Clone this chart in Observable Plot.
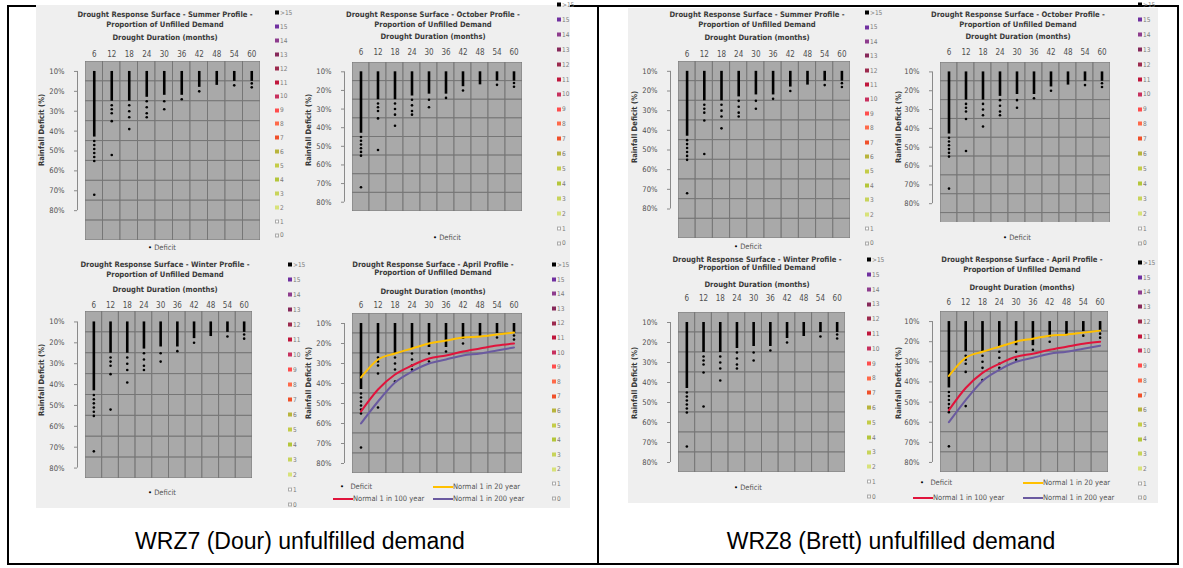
<!DOCTYPE html>
<html><head><meta charset="utf-8">
<script src="https://cdn.jsdelivr.net/npm/d3@7"></script>
<script src="https://cdn.jsdelivr.net/npm/@observablehq/plot@0.6"></script>
<style>
body{margin:0;background:#fff;}
#root{position:relative;width:1183px;height:568px;overflow:hidden;font-family:"Liberation Sans Narrow","DejaVu Sans Condensed","Liberation Sans",sans-serif;}
.bar{position:absolute;background:#000;}
.img{position:absolute;background:#efefef;}
.t{position:absolute;white-space:nowrap;transform:translate(-50%,-50%);font-size:7.6px;line-height:8px;color:#3a3a3a;font-weight:bold;}
.yt{position:absolute;white-space:nowrap;transform:translate(-50%,-50%) rotate(-90deg);font-size:7.6px;line-height:8px;color:#3a3a3a;font-weight:bold;}
.n{position:absolute;white-space:nowrap;transform:translateY(-50%);font-size:7.5px;line-height:8px;color:#555;}
.cap{position:absolute;white-space:nowrap;transform:translate(-50%,-50%);font-family:"Liberation Sans",Arial,sans-serif;font-size:23px;color:#000;}
.leg{position:absolute;font-size:6.5px;line-height:7px;color:#7a7a7a;white-space:nowrap;transform:translateY(-50%);}
.sw{display:inline-block;width:4px;height:4px;margin-right:1px;vertical-align:middle;box-sizing:border-box;}
.ln{position:absolute;height:2px;transform:translateY(-50%);}
svg{position:absolute;overflow:visible;}
</style></head><body><div id="root"></div>
<script>
// ---- data ----
const durations = [6, 12, 18, 24, 30, 36, 42, 48, 54, 60];
const durationStep = 6;
const deficitRows = [10, 20, 30, 40, 50, 60, 70, 80, 90];
const rowStep = 10;
const yTicks = [10, 20, 30, 40, 50, 60, 70, 80];
const denseStart = [10, 10, 10, 10, 10, 10, 10, 10, 10, 10];
const denseEnd = [43, 25, 25, 23, 22, 22, 18, 17, 15, 15];
const scatterDuration = [6, 6, 6, 6, 6, 6, 6, 12, 12, 12, 12, 12, 18, 18, 18, 18, 24, 24, 24, 24, 30, 30, 36, 42, 54, 60, 60];
const scatterDeficit = [45, 47, 49, 51, 53, 55, 72, 27, 29, 31, 35, 52, 27, 30, 33, 39, 25, 28, 31, 33, 25, 29, 24, 20, 17, 16, 18];
const normal20 = [37, 28, 25, 22.5, 20, 18.5, 17, 16.5, 15.5, 14.5];
const normal100 = [54, 43, 35.5, 31, 27.5, 26, 24, 22.5, 21, 20];
const normal200 = [60, 49, 39.5, 34, 30, 28, 26, 25, 23.5, 22];
const seriesNames = ["Normal 1 in 20 year", "Normal 1 in 100 year", "Normal 1 in 200 year"];
const seriesColors = ["#ffc000", "#e0143c", "#6a5aa0"];
const legendLabels = [">15", "15", "14", "13", "12", "11", "10", "9", "8", "7", "6", "5", "4", "3", "2", "1", "0"];
const legendColors = ["#000000", "#7030a0", "#8e3c8e", "#86285a", "#9c2a4e", "#c0163c", "#c8305e", "#ff4d4d", "#ff6a4a", "#f0502a", "#b8b43c", "#c4cc48", "#b4c63a", "#c8d45a", "#d8e27a", "#ffffff", "#f4f4f4"];
const captions = ["WRZ7 (Dour) unfulfilled demand", "WRZ8 (Brett) unfulfilled demand"];

// ---- layout (positions only) ----
const panels = [
  {p:"Summer", x0:85, x1:260, y0:61, y1:240, yMax:95, tx:165, t1:15, t2:25, ax:38, tick:52, yt:[42,130], leg:[275,13,13.9], def:[162,248]},
  {p:"October", x0:352, x1:522, y0:62, y1:211, yMax:85, tx:433, t1:15, t2:25, ax:37, tick:50, yt:[309,130], leg:[557,5,14.9], def:[447,238]},
  {p:"Winter", x0:85, x1:252, y0:311, y1:478, yMax:85, tx:165, t1:265, t2:275, ax:290, tick:303, yt:[42,380], leg:[288,265,15], def:[162,493]},
  {p:"April", x0:352, x1:522, y0:313, y1:473, yMax:85, tx:433, t1:265, t2:273, ax:292, tick:303, yt:[309,383], leg:[552,265,14.6], april:{r1:487, r2:499, defX:340, lx1:433, lx2:333}},
  {p:"Summer", x0:678, x1:850, y0:61, y1:238, yMax:95, tx:757, t1:15, t2:25, ax:38, tick:52, yt:[635,127], leg:[865,13,14.4], def:[748,247]},
  {p:"October", x0:940, x1:1110, y0:62, y1:222, yMax:90, tx:1018, t1:15, t2:25, ax:37, tick:50, yt:[899,127], leg:[1138,5,14.9], def:[1017,238]},
  {p:"Winter", x0:678, x1:845, y0:312, y1:472, yMax:85, tx:757, t1:260, t2:268, ax:285, tick:296, yt:[635,383], leg:[867,260,14.8], def:[748,488]},
  {p:"April", x0:940, x1:1108, y0:311, y1:472, yMax:85, tx:1022, t1:260, t2:270, ax:288, tick:300, yt:[899,383], leg:[1138,263,14.7], april:{r1:483, r2:498, defX:920, lx1:1023, lx2:913}}
];

const root = document.getElementById("root");
function add(cls, css, html) {
  const el = document.createElement("div");
  el.className = cls;
  Object.assign(el.style, css);
  if (html !== undefined) el.innerHTML = html;
  root.appendChild(el);
  return el;
}
const px = v => v + "px";

// images and table borders
add("img", {left:"36px", top:"5px", width:"534px", height:"503px"});
add("img", {left:"628px", top:"8px", width:"530px", height:"495px"});
add("bar", {left:"7px", top:"5px", width:"1172px", height:"2px"});
add("bar", {left:"7px", top:"563px", width:"1172px", height:"2px"});
add("bar", {left:"7px", top:"5px", width:"2px", height:"560px"});
add("bar", {left:"597px", top:"5px", width:"2px", height:"560px"});
add("bar", {left:"1177px", top:"5px", width:"2px", height:"560px"});
add("img", {left:"36px", top:"5px", width:"534px", height:"2px"});

add("cap", {left:"300px", top:"541px"}, captions[0]);
add("cap", {left:"891px", top:"541px"}, captions[1]);

const FONT = '"Liberation Sans Narrow","DejaVu Sans Condensed","Liberation Sans",sans-serif';

function makePanel(cfg) {
  const mL = 50, mR = 4, mT = 24, mB = 4;
  const W = cfg.x1 - cfg.x0, H = cfg.y1 - cfg.y0;
  const xDomain = [durations[0] - durationStep / 2, durations[durations.length - 1] + durationStep / 2];
  const rows = deficitRows.filter(r => r - rowStep / 2 < cfg.yMax);
  const cells = durations.flatMap(d => rows.map(r => ({dur: d, row: r})));
  const dense = durations.map((d, i) => ({dur: d, top: denseStart[i], end: denseEnd[i]}));
  const scatter = scatterDuration.map((d, i) => ({dur: d, def: scatterDeficit[i]}));
  const marks = [
    Plot.rect(cells, {x1: d => d.dur - durationStep / 2, x2: d => d.dur + durationStep / 2,
      y1: d => d.row - rowStep / 2, y2: d => d.row + rowStep / 2,
      fill: "#a9a9a9", stroke: "#767676", strokeWidth: 1, clip: true}),
    Plot.axisX({anchor: "top", ticks: durations, tickSize: 0, tickPadding: cfg.y0 - cfg.tick - 4, label: null, fontSize: 8, fill: "#505050"}),
    Plot.axisY({ticks: yTicks, tickFormat: d => d + "%", tickSize: 3, tickPadding: 10, dx: -8, label: null, fontSize: 7.6, fill: "#505050", stroke: "#8a8a8a"}),
    Plot.ruleX([xDomain[0]], {y1: () => yTicks[0], y2: () => yTicks[yTicks.length - 1], dx: -8, stroke: "#8a8a8a"}),
    Plot.ruleX(dense, {x: "dur", y1: "top", y2: "end", stroke: "#000", strokeWidth: 2.6}),
    Plot.dot(scatter, {x: "dur", y: "def", r: 1.3, fill: "#000"})
  ];
  if (cfg.april) {
    const vals = [normal20, normal100, normal200];
    const lines = seriesNames.flatMap((s, k) => durations.map((d, i) => ({series: s, dur: d, def: vals[k][i]})));
    marks.push(Plot.line(lines, {x: "dur", y: "def", z: "series", stroke: "series", strokeWidth: 2, curve: "monotone-x"}));
  }
  const chart = Plot.plot({
    width: W + mL + mR, height: H + mT + mB,
    marginLeft: mL, marginRight: mR, marginTop: mT, marginBottom: mB,
    x: {domain: xDomain},
    y: {domain: [5, cfg.yMax], reverse: true},
    color: {domain: seriesNames, range: seriesColors},
    style: {background: "transparent", fontFamily: FONT, fontSize: "8px", color: "#505050", overflow: "visible"},
    marks
  });
  chart.style.position = "absolute";
  chart.style.left = px(cfg.x0 - mL);
  chart.style.top = px(cfg.y0 - mT);
  root.appendChild(chart);

  add("t", {left: px(cfg.tx), top: px(cfg.t1)}, `Drought Response Surface - ${cfg.p} Profile -`);
  add("t", {left: px(cfg.tx), top: px(cfg.t2)}, "Proportion of Unfilled Demand");
  add("t", {left: px(cfg.tx), top: px(cfg.ax)}, "Drought Duration (months)");
  add("yt", {left: px(cfg.yt[0]), top: px(cfg.yt[1])}, "Rainfall Deficit (%)");

  const [lx, ly, sp] = cfg.leg;
  legendLabels.forEach((lab, i) => {
    const c = legendColors[i];
    const border = i >= legendLabels.length - 2 ? "1px solid #aaa" : "none";
    add("leg", {left: px(lx), top: px(ly + i * sp)},
      `<span class="sw" style="background:${c};border:${border}"></span>${lab.replace(">", "&gt;")}`);
  });

  if (cfg.april) {
    const a = cfg.april;
    add("n", {left: px(a.defX), top: px(a.r1)}, `<span style="color:#000">•</span>&nbsp;&nbsp;&nbsp;Deficit`);
    add("ln", {left: px(a.lx1), top: px(a.r1), width: "20px", background: seriesColors[0]});
    add("n", {left: px(a.lx1 + 20), top: px(a.r1)}, seriesNames[0]);
    add("ln", {left: px(a.lx2), top: px(a.r2), width: "20px", background: seriesColors[1]});
    add("n", {left: px(a.lx2 + 20), top: px(a.r2)}, seriesNames[1]);
    add("ln", {left: px(a.lx1), top: px(a.r2), width: "20px", background: seriesColors[2]});
    add("n", {left: px(a.lx1 + 20), top: px(a.r2)}, seriesNames[2]);
  } else {
    const el = add("n", {left: px(cfg.def[0]), top: px(cfg.def[1])}, `<span style="color:#000">•</span> Deficit`);
    el.style.transform = "translate(-50%,-50%)";
  }
}
panels.forEach(makePanel);
</script></body></html>
